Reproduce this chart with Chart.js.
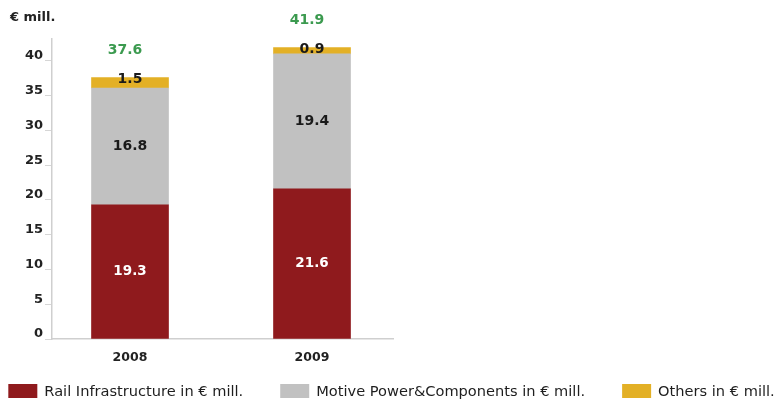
<!DOCTYPE html>
<html>
<head>
<meta charset="utf-8">
<script src="https://cdn.jsdelivr.net/npm/chart.js@4/dist/chart.umd.min.js"></script>
<style>
  html, body { margin: 0; padding: 0; background: #fff; }
  #wrap { width: 783px; height: 403px; }
</style>
</head>
<body>
<div id="wrap"><canvas id="grafico_barras"></canvas></div>
<script>
const years = ['2008', '2009'];
const rail = [19.3, 21.6];
const motive = [16.8, 19.4];
const others = [1.5, 0.9];
const seriesNames = ['Rail Infrastructure in € mill.', 'Motive Power&Components in € mill.', 'Others in € mill.'];
const yTicks = [0, 5, 10, 15, 20, 25, 30, 35, 40];

const totals = years.map((_, i) => rail[i] + motive[i] + others[i]);

Chart.defaults.font.family = 'DejaVu Sans';
Chart.defaults.color = '#222';

const toPoints = arr => arr.map((v, i) => ({ x: i, y: v }));

const data = {
    datasets: [
        { label: seriesNames[0], data: toPoints(rail), backgroundColor: '#8f1a1d', labelColor: '#fff' },
        { label: seriesNames[1], data: toPoints(motive), backgroundColor: '#c1c1c1', labelColor: '#1a1a1a' },
        { label: seriesNames[2], data: toPoints(others), backgroundColor: '#e3b026', labelColor: '#1a1a1a' }
    ]
};

// value labels inside each segment plus the green total above the stack
const valueLabels = {
    id: 'valueLabels',
    afterDatasetsDraw(chart) {
        const ctx = chart.ctx;
        ctx.save();
        ctx.textAlign = 'center';
        ctx.textBaseline = 'middle';
        chart.data.datasets.forEach((ds, di) => {
            const meta = chart.getDatasetMeta(di);
            meta.data.forEach((bar, i) => {
                const v = ds.data[i].y;
                let y = (bar.y + bar.base) / 2;
                if (di === 2) y = bar.y + 2;
                ctx.font = di === 0 ? 'bold 13.5px "DejaVu Sans"' : 'bold 14px "DejaVu Sans"';
                ctx.fillStyle = ds.labelColor;
                ctx.fillText(v.toFixed(1), bar.x, y);
            });
        });
        const top = chart.getDatasetMeta(2);
        top.data.forEach((bar, i) => {
            ctx.font = 'bold 14px "DejaVu Sans"';
            ctx.fillStyle = '#3b9a4f';
            ctx.fillText(totals[i].toFixed(1), bar.x - 5, bar.y - 27);
        });
        ctx.restore();
    }
};

// legend row along the bottom with wide gaps between entries
const bottomLegend = {
    id: 'bottomLegend',
    afterDraw(chart) {
        const ctx = chart.ctx;
        ctx.save();
        ctx.font = '14.6px "DejaVu Sans"';
        ctx.textBaseline = 'middle';
        ctx.textAlign = 'left';
        const boxW = 29, boxH = 14, gap = 7, spacing = 37;
        const widths = chart.data.datasets.map(ds => boxW + gap + ctx.measureText(ds.label).width);
        const total = widths.reduce((a, b) => a + b, 0) + spacing * (widths.length - 1);
        let x = (chart.width - total) / 2;
        const cy = 391;
        chart.data.datasets.forEach((ds, i) => {
            ctx.fillStyle = ds.backgroundColor;
            ctx.fillRect(x, cy - boxH / 2, boxW, boxH);
            ctx.fillStyle = '#1e1e1e';
            ctx.fillText(ds.label, x + boxW + gap, cy + 1);
            x += widths[i] + spacing;
        });
        ctx.restore();
    }
};

const chart = new Chart(document.getElementById('grafico_barras'), {
    type: 'bar',
    data: data,
    plugins: [valueLabels, bottomLegend],
    options: {
        responsive: true,
        maintainAspectRatio: false,
        animation: false,
        layout: { padding: { left: 10, right: 390, top: 0, bottom: 27 } },
        datasets: { bar: { barThickness: 77 } },
        plugins: {
            legend: { display: false },
            tooltip: { enabled: false },
            title: {
                display: true,
                text: '€ mill.',
                align: 'start',
                color: '#222',
                font: { size: 13, weight: 'bold' },
                padding: { top: 10, bottom: 13 }
            }
        },
        scales: {
            x: {
                type: 'linear',
                stacked: true,
                offset: false,
                min: -0.4286,
                max: 1.445,
                grid: { display: false, drawTicks: false },
                border: { display: true, color: '#cfcfcf', width: 1.5 },
                afterBuildTicks: s => { s.ticks = years.map((_, i) => ({ value: i })); },
                ticks: {
                    callback: v => years[v],
                    padding: 11,
                    color: '#222',
                    font: { size: 12.5, weight: 'bold' }
                }
            },
            y: {
                stacked: true,
                min: 0,
                max: 43.2,
                afterFit: s => { s.width = 42; },
                afterBuildTicks: s => { s.ticks = yTicks.map(v => ({ value: v })); },
                grid: { drawOnChartArea: false, drawTicks: true, tickLength: 7, color: '#d6d6d6' },
                border: { display: true, color: '#cfcfcf', width: 1.5 },
                ticks: {
                    padding: 2,
                    labelOffset: -5,
                    color: '#222',
                    font: { size: 13, weight: 'bold' }
                }
            }
        }
    }
});
</script>
</body>
</html>
